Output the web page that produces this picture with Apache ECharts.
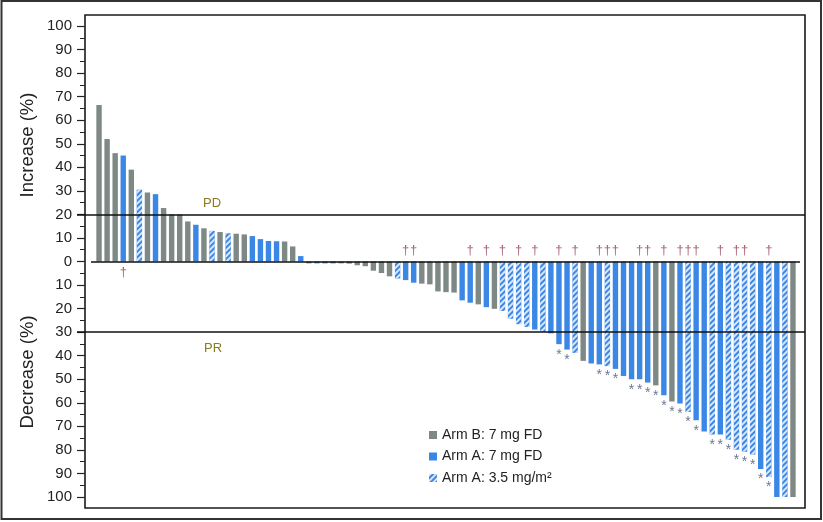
<!DOCTYPE html>
<html><head><meta charset="utf-8">
<script src="https://cdn.jsdelivr.net/npm/echarts@6/dist/echarts.min.js"></script>
<style>html,body{margin:0;padding:0;background:#fff}#c{width:823px;height:522px}</style>
</head><body><div id="c"></div>
<script>
// Arm of each patient bar: B = Arm B 7 mg FD, A7 = Arm A 7 mg FD, A35 = Arm A 3.5 mg/m2
const arms = ['B','B','B','A7','B','A35','B','A7','B','B',
  'B','B','A7','B','A35','B','A35','B','B','A7',
  'A7','A7','A7','B','B','A7','B','A7','A7','A7',
  'B','B','B','B','B','B','B','A35','A7','A7',
  'B','B','B','B','B','A7','A7','B','A7','B',
  'A35','A35','A35','A35','A7','A35','A7','A7','A7','A35',
  'B','A7','A7','A35','A7','A7','A7','A7','A7','B',
  'A7','B','A7','A35','A7','A7','A35','A7','A35','A35',
  'A35','A35','A7','A35','A7','A35','B'];
// Best change in tumour size (%), positive = increase, negative = decrease
const values = [66.5,52,46,45,39,30.5,29.3,28.6,22.7,20,
  20,17,15.6,14.1,13,12.5,12,11.8,11.5,10.8,
  9.5,8.7,8.6,8.5,6.4,2.3,-0.8,-0.8,-0.8,-0.8,
  -0.8,-0.9,-1.6,-2,-3.9,-4.9,-6.3,-7.2,-7.9,-9,
  -9.4,-9.7,-12.7,-13,-13.2,-16.5,-17.5,-18.2,-19.4,-20.1,
  -21,-24.3,-26.6,-27.8,-28.9,-29.8,-30.5,-35.1,-37.4,-38.8,
  -42.2,-43.3,-43.7,-44.4,-45.6,-48.6,-50,-50,-51.4,-52.6,
  -56.8,-59.4,-60.3,-63.9,-67.4,-72.2,-73.5,-73.5,-75.7,-79.9,
  -80.8,-82,-88.1,-91.5,-100,-100,-100];
// Patients (1-based bar numbers) marked with a dagger and with an asterisk
const daggerBars = [4,39,40,47,49,51,53,55,58,60,63,64,65,68,69,71,73,74,75,78,80,81,84];
const asteriskBars = [58,59,63,64,65,67,68,69,70,71,72,73,74,75,77,78,79,80,81,82,83,84,85,86,87];
const categories = values.map((_, i) => String(i + 1));
const seriesNames = {B:'Arm B: 7 mg FD', A7:'Arm A: 7 mg FD', A35:'Arm A: 3.5 mg/m\u00b2'};
const refLines = {PD: 20, PR: -30};

const GRAY = '#7e8885', BLUE = '#3b87e6';
const chart = echarts.init(document.getElementById('c'));

function armData(key){ return values.map((v,i)=> arms[i]===key ? v : '-'); }

const daggerData = daggerBars.map(b => [b-1, values[b-1] >= 0 ? -4.7 : 4.9]);
const asteriskData = asteriskBars.map(b => [b-1, values[b-1] - 3.2]);

const baseBar = {type:'bar', barWidth:5.4, barGap:'-100%', xAxisIndex:0, yAxisIndex:0, silent:true, animation:false};

chart.setOption({
  animation:false,
  grid:[
    {left:95, right:26, top:26, bottom:25},
    {left:77, right:18, top:26, bottom:25},
    {left:91, right:23, top:26, bottom:25}
  ],
  xAxis:[
    {type:'category', gridIndex:0, data:categories, boundaryGap:true,
     axisLine:{show:false}, axisTick:{show:false}, axisLabel:{show:false}},
    {type:'value', gridIndex:1, min:0, max:1, show:false},
    {type:'value', gridIndex:2, min:0, max:1, show:false}
  ],
  yAxis:[
    {type:'value', gridIndex:0, min:-100, max:100, interval:10, offset:10,
     axisLine:{show:false},
     axisTick:{show:true, length:8, lineStyle:{color:'#222', width:1.2}},
     minorTick:{show:true, splitNumber:2, length:5, lineStyle:{color:'#222', width:1}},
     splitLine:{show:false},
     axisLabel:{margin:13, fontSize:15, color:'#222', fontFamily:'Liberation Sans, Arial, sans-serif',
       formatter: v => String(Math.abs(v))}},
    {type:'value', gridIndex:1, min:-100, max:100, show:false},
    {type:'value', gridIndex:2, min:-100, max:100, show:false}
  ],
  legend:{
    orient:'vertical', left:424, top:423, itemWidth:8, itemHeight:8, itemGap:7.5,
    icon:'rect', selectedMode:false,
    textStyle:{fontSize:14, color:'#222', fontFamily:'Liberation Sans, Arial, sans-serif'},
    data:[seriesNames.B, seriesNames.A7, seriesNames.A35]
  },
  series:[
    Object.assign({}, baseBar, {name:seriesNames.B, data:armData('B'), itemStyle:{color:GRAY}}),
    Object.assign({}, baseBar, {name:seriesNames.A7, data:armData('A7'), itemStyle:{color:BLUE}}),
    Object.assign({}, baseBar, {name:seriesNames.A35, data:armData('A35'),
      itemStyle:{color:BLUE, decal:{symbol:'rect', symbolSize:1, dashArrayX:[1,0], dashArrayY:[1.5,1.5],
        rotation:-Math.PI/4, color:'rgba(225,236,252,0.95)'}}}),
    {type:'scatter', xAxisIndex:0, yAxisIndex:0, data:daggerData, symbolSize:0, silent:true,
     label:{show:true, position:'inside', formatter:'\u2020', fontSize:13, color:'#8e3a4a',
       fontFamily:'Liberation Sans, Arial, sans-serif'}},
    {type:'scatter', xAxisIndex:0, yAxisIndex:0, data:asteriskData, symbolSize:0, silent:true,
     label:{show:true, position:'inside', formatter:'*', fontSize:14, color:'#46547a', offset:[0,3],
       fontFamily:'Liberation Sans, Arial, sans-serif'}},
    {type:'line', xAxisIndex:1, yAxisIndex:1, data:[], silent:true,
     markLine:{silent:true, symbol:'none', label:{show:false}, animation:false,
       lineStyle:{color:'#111', width:1.6, type:'solid'},
       data:[{yAxis:refLines.PD}, {yAxis:refLines.PR}]}},
    {type:'line', xAxisIndex:2, yAxisIndex:2, data:[], silent:true,
     markLine:{silent:true, symbol:'none', label:{show:false}, animation:false,
       lineStyle:{color:'#111', width:1.6, type:'solid'},
       data:[{yAxis:0}]}}
  ]
});

const pdY = chart.convertToPixel({yAxisIndex:0}, refLines.PD);
const prY = chart.convertToPixel({yAxisIndex:0}, refLines.PR);
chart.setOption({
  graphic:[
    {type:'rect', silent:true, shape:{x:1.5, y:1, width:819.5, height:518},
     style:{fill:'none', stroke:'#333', lineWidth:2}},
    {type:'rect', silent:true, shape:{x:85, y:15, width:720, height:493},
     style:{fill:'none', stroke:'#1a1a1a', lineWidth:1.6}},
    {type:'text', silent:true, x:212, y:pdY-11, style:{text:'PD', fill:'#8a7a22', fontSize:13,
      fontFamily:'Liberation Sans, Arial, sans-serif', align:'center', verticalAlign:'middle'}},
    {type:'text', silent:true, x:213, y:prY+16, style:{text:'PR', fill:'#8a7a22', fontSize:13,
      fontFamily:'Liberation Sans, Arial, sans-serif', align:'center', verticalAlign:'middle'}},
    {type:'text', silent:true, x:28, y:145, rotation:Math.PI/2,
     style:{text:'Increase (%)', fill:'#222', fontSize:18.5, fontFamily:'Liberation Sans, Arial, sans-serif',
       align:'center', verticalAlign:'middle'}},
    {type:'text', silent:true, x:28, y:372, rotation:Math.PI/2,
     style:{text:'Decrease (%)', fill:'#222', fontSize:18.5, fontFamily:'Liberation Sans, Arial, sans-serif',
       align:'center', verticalAlign:'middle'}}
  ]
});
</script></body></html>
